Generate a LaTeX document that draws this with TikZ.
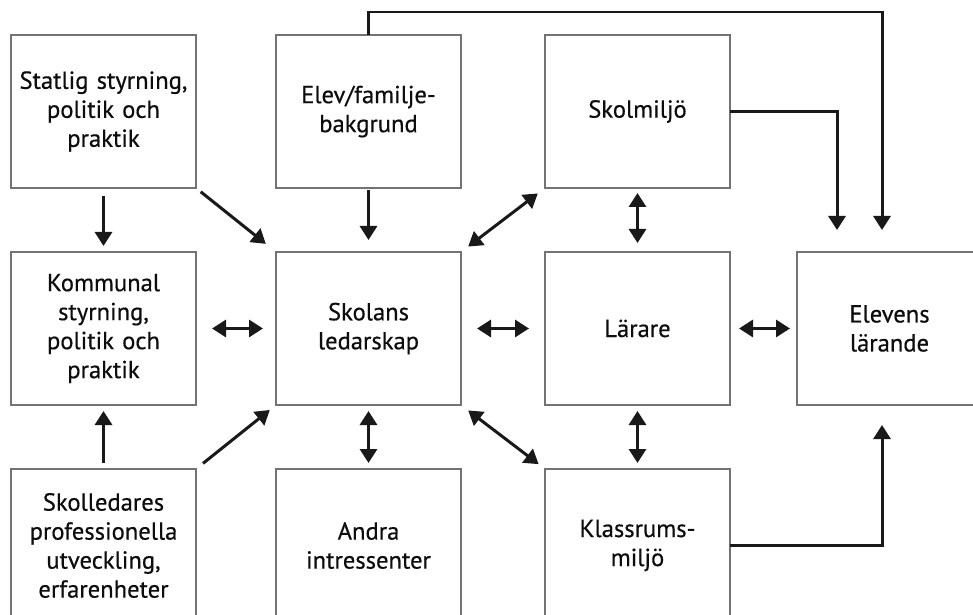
\documentclass[tikz,border=0pt]{standalone}
\usepackage{fontspec}
\setmainfont{PT Sans}[FakeBold=0.5]
\usetikzlibrary{arrows.meta,positioning,calc}

\begin{document}
\begin{tikzpicture}[node distance=1.28cm and 1.6cm, thick,
		box/.style={rectangle, draw=black!55, line width=0.7pt, text width=3.6cm, align=center, minimum width=3.7cm, minimum height=3.06cm, inner sep=0pt, outer sep=0pt, font=\fontsize{14}{16.5}\selectfont, text=black!95},
		arrow/.style={-{Triangle[length=0.28cm,width=0.34cm]}, line width=1.7pt, black!90},
		twoway/.style={{Triangle[length=0.28cm,width=0.34cm]}-{Triangle[length=0.28cm,width=0.34cm]}, line width=1.7pt, black!90}]

		% page frame, boxes at the right and bottom run off the edge
		\useasboundingbox (-2.07,2.23) rectangle (17.39,-10.07);
		\clip (-2.07,2.23) rectangle (17.39,-10.07);

		\node [box] (statlig) at (0,0) {Statlig styrning,\\ politik och\\ praktik};
		\node [box, right=of statlig] (elev) {Elev/familje-\\ bakgrund};
		\node [box, right=1.68cm of elev] (skolmiljo) {Skolmiljö};
		\node [box, below=of statlig] (kommunal) {Kommunal\\ styrning,\\ politik och\\ praktik};
		\node [box, below=of elev] (skolans) {Skolans\\ ledarskap};
		\node [box, below=of skolmiljo] (larare) {Lärare};
		\node [box, right=1.34cm of larare] (elevens) {Elevens\\ lärande};
		\node [box, below=of kommunal] (skolledare) {Skolledares\\ professionella\\ utveckling,\\ erfarenheter};
		\node [box, below=of skolans] (andra) {Andra\\ intressenter};
		\node [box, below=of larare] (klassrum) {Klassrums-\\ miljö};

		% one-way influences
		\draw [arrow, shorten <=0.16cm, shorten >=0.12cm] (statlig) -- (kommunal);
		\draw [arrow, shorten <=0.12cm, shorten >=0.26cm] (statlig.south east) -- (skolans.north west);
		\draw [arrow, shorten <=0.04cm, shorten >=0.24cm] (elev) -- (skolans);
		\draw [arrow, shorten <=0.12cm, shorten >=0.12cm] (skolledare) -- (kommunal);
		\draw [arrow, shorten <=0.18cm, shorten >=0.16cm] (skolledare.north east) -- (skolans.south west);
		\draw [arrow] (elev.north) -- ++(0,0.46) -| ([xshift=-0.15cm,yshift=0.44cm]elevens.north);
		\draw [arrow] (skolmiljo.east) -| ([xshift=-1.05cm,yshift=0.44cm]elevens.north);
		\draw [arrow] (klassrum.east) -| ([xshift=-0.15cm,yshift=-0.4cm]elevens.south);

		% two-way influences
		\draw [twoway, shorten <=0.32cm, shorten >=0.26cm] (kommunal) -- (skolans);
		\draw [twoway, shorten <=0.32cm, shorten >=0.32cm] (skolans) -- (larare);
		\draw [twoway, shorten <=0.18cm, shorten >=0.14cm] (larare) -- (elevens);
		\draw [twoway, shorten <=0.18cm, shorten >=0.18cm] (skolans.north east) -- (skolmiljo.south west);
		\draw [twoway, shorten <=0.18cm, shorten >=0.16cm] (skolans.south east) -- (klassrum.north west);
		\draw [twoway, shorten <=0.1cm, shorten >=0.18cm] (skolmiljo) -- (larare);
		\draw [twoway, shorten <=0.12cm, shorten >=0.12cm] (larare) -- (klassrum);
		\draw [twoway, shorten <=0.12cm, shorten >=0.12cm] (skolans) -- (andra);

	\end{tikzpicture}
\end{document}
